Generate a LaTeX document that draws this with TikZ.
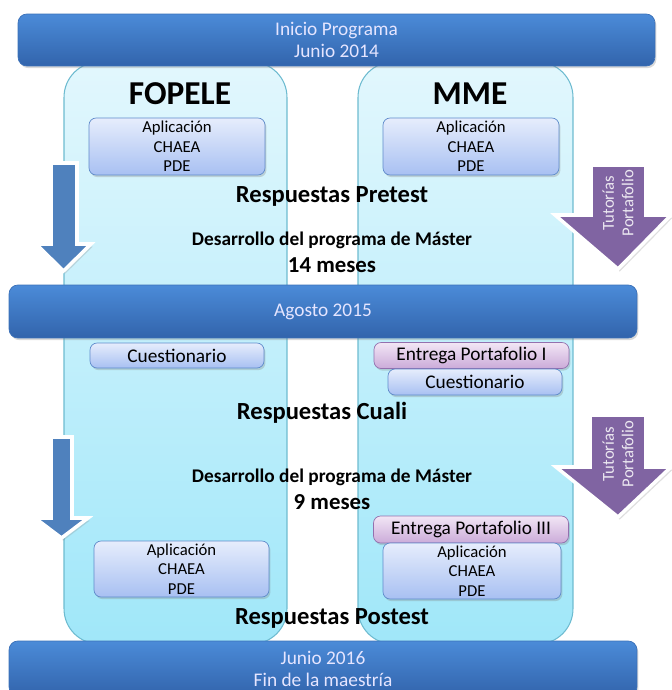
\documentclass[tikz,border=0pt]{standalone}
\usepackage{fontspec}
\setmainfont{Carlito}
\usetikzlibrary{positioning,shadows}

\definecolor{barhi}{HTML}{4B8BD8}
\definecolor{barlo}{HTML}{3264AC}
\definecolor{baredge}{HTML}{3A70B8}
\definecolor{colhi}{HTML}{E2F7FD}
\definecolor{collo}{HTML}{A0E7F9}
\definecolor{coledge}{HTML}{6DBBD0}
\definecolor{boxhi}{HTML}{E6EDFC}
\definecolor{boxlo}{HTML}{A8C0F2}
\definecolor{boxedge}{HTML}{5F8BCB}
\definecolor{pbhi}{HTML}{F2E6F5}
\definecolor{pblo}{HTML}{CBABD9}
\definecolor{pbedge}{HTML}{9370AE}
\definecolor{arrblue}{HTML}{4F81BD}
\definecolor{arrpurple}{HTML}{8064A2}

\begin{document}
\begin{tikzpicture}[x=0.02cm, y=-0.02cm,
  shad/.style={drop shadow={opacity=0.3, shadow xshift=0.8pt, shadow yshift=-1.2pt}},
  bar/.style={shad, rounded corners=5pt, draw=baredge, top color=barhi, bottom color=barlo, text=white!90!blue, align=center, inner sep=0pt, minimum width=12.6cm, font=\fontsize{11}{12.5}\selectfont},
  col/.style={rounded corners=20pt, draw=coledge, line width=0.6pt, top color=colhi, bottom color=collo, inner sep=0pt, minimum height=11.64cm},
  ebox/.style={shad, rounded corners=4pt, draw=boxedge, top color=boxhi, bottom color=boxlo, align=center, inner sep=0pt, font=\fontsize{9.5}{11}\selectfont},
  pbox/.style={shad, rounded corners=4pt, draw=pbedge, top color=pbhi, bottom color=pblo, inner sep=0pt, font=\fontsize{11}{13}\selectfont},
  lbl/.style={font=\bfseries\fontsize{#1}{#1}\selectfont, inner sep=1pt}]
\tikzstyle{blockarrow}=[draw=white, line width=2pt, line join=miter, drop shadow={opacity=0.25, shadow xshift=1pt, shadow yshift=-1.5pt}]
\tikzstyle{tut}=[rotate=90, align=center, text=white!85!arrpurple, font=\fontsize{9.5}{11}\selectfont]
\useasboundingbox (0,0) rectangle (672,690);
\clip (0,0) rectangle (672,690);

% columns
\node[col, minimum width=4.46cm] (colF) at (175.5,353) {};
\node[col, minimum width=4.3cm] (colM) at (465.5,353) {};
\node[lbl=19] (labF) at (180,94) {FOPELE};
\node[lbl=19] (labM) at (470,94) {MME};

% arrows
\draw[blockarrow, fill=arrblue] (51,163) -- (77,163) -- (77,244) -- (91,244) -- (63.5,271) -- (36,244) -- (51,244) -- cycle;
\draw[blockarrow, fill=arrblue] (51,437) -- (72,437) -- (72,518) -- (88,518) -- (61.5,538) -- (35,518) -- (51,518) -- cycle;
\draw[blockarrow, fill=arrpurple] (591,165) -- (646,165) -- (646,215) -- (671,215) -- (618,269) -- (555,215) -- (591,215) -- cycle;
\draw[blockarrow, fill=arrpurple] (590,415) -- (646,415) -- (646,467) -- (671,467) -- (618,517) -- (556,467) -- (590,467) -- cycle;
\node[tut] (tut1) at (618,203) {Tutorías\\Portafolio};
\node[tut] (tut2) at (618,454) {Tutorías\\Portafolio};

% bars
\node[bar, minimum width=12.74cm, minimum height=1.04cm] (inicio) at (336.5,40) {Inicio Programa\\Junio 2014};
\node[bar, minimum width=12.56cm, minimum height=1.06cm] (agosto) at (323,311.5) {Agosto 2015};
\node[bar, minimum width=12.56cm, minimum height=1.1cm] (junio) at (323,668.5) {Junio 2016\\Fin de la maestría};

% boxes
\node[ebox, minimum width=3.52cm, minimum height=1.14cm] (aplF1) at (177,146.5) {Aplicación\\CHAEA\\PDE};
\node[ebox, minimum width=3.52cm, minimum height=1.14cm] (aplM1) at (471,146.5) {Aplicación\\CHAEA\\PDE};
\node[ebox, minimum width=3.48cm, minimum height=0.5cm, font=\fontsize{11}{13}\selectfont] (cueF) at (177,355.5) {Cuestionario};
\node[pbox, minimum width=3.9cm, minimum height=0.52cm] (entI) at (471.5,355.5) {Entrega Portafolio I};
\node[ebox, minimum width=3.48cm, minimum height=0.52cm, font=\fontsize{11}{13}\selectfont] (cueM) at (475,382) {Cuestionario};
\node[pbox, minimum width=3.9cm, minimum height=0.54cm] (entIII) at (471,529.5) {Entrega Portafolio III};
\node[ebox, minimum width=3.5cm, minimum height=1.12cm] (aplF2) at (181.5,569) {Aplicación\\CHAEA\\PDE};
\node[ebox, minimum width=3.56cm, minimum height=1.12cm] (aplM2) at (472,571) {Aplicación\\CHAEA\\PDE};

% texts
\node[lbl=14] (pre) at (332,196) {Respuestas Pretest};
\node[lbl=11] (desa1) at (332,240) {Desarrollo del programa de Máster};
\node[lbl=13] (mes1) at (332,265) {14 meses};
\node[lbl=14] (cuali) at (322,413) {Respuestas Cuali};
\node[lbl=11] (desa2) at (332,477) {Desarrollo del programa de Máster};
\node[lbl=13] (mes2) at (332,502) {9 meses};
\node[lbl=14] (post) at (332,618) {Respuestas Postest};
\end{tikzpicture}
\end{document}
